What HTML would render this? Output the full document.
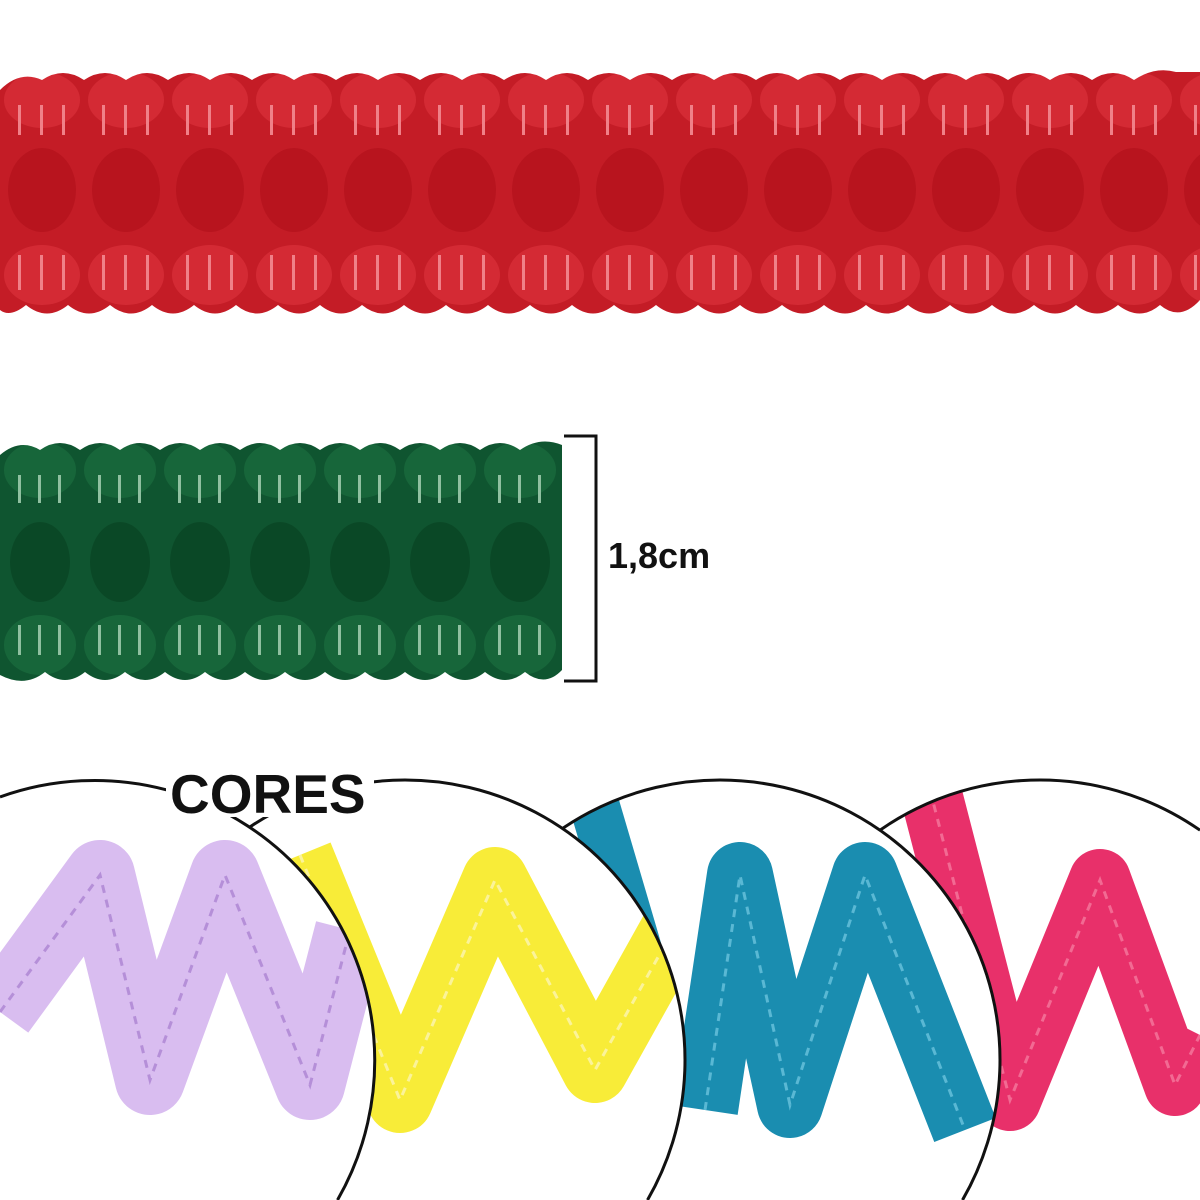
<!DOCTYPE html>
<html><head><meta charset="utf-8"><style>
html,body{margin:0;padding:0;background:#fff;width:1200px;height:1200px;overflow:hidden;}
svg{display:block;}
text{font-family:"Liberation Sans",sans-serif;font-weight:bold;}
</style></head><body>
<svg width="1200" height="1200" viewBox="0 0 1200 1200" xmlns="http://www.w3.org/2000/svg">
<defs>
<pattern id="redp" x="0" y="70" width="84" height="255" patternUnits="userSpaceOnUse">
  <rect width="84" height="255" fill="#c41c26"/>
  <ellipse cx="42" cy="30" rx="38" ry="28" fill="#d42a34"/>
  <ellipse cx="42" cy="120" rx="34" ry="42" fill="#b8141e"/>
  <ellipse cx="42" cy="205" rx="38" ry="30" fill="#d42a34"/>
  <rect x="18" y="35" width="3" height="30" fill="#f08088"/>
  <rect x="40" y="35" width="3" height="30" fill="#f08088"/>
  <rect x="62" y="35" width="3" height="30" fill="#f08088"/>
  <rect x="18" y="185" width="3" height="35" fill="#f08088"/>
  <rect x="40" y="185" width="3" height="35" fill="#f08088"/>
  <rect x="62" y="185" width="3" height="35" fill="#f08088"/>
</pattern>
<pattern id="grnp" x="0" y="440" width="80" height="245" patternUnits="userSpaceOnUse">
  <rect width="80" height="245" fill="#0f5530"/>
  <ellipse cx="40" cy="30" rx="36" ry="28" fill="#17663a"/>
  <ellipse cx="40" cy="122" rx="30" ry="40" fill="#0a4826"/>
  <ellipse cx="40" cy="205" rx="36" ry="30" fill="#17663a"/>
  <rect x="18" y="35" width="3" height="28" fill="#8fc0a0"/>
  <rect x="38" y="35" width="3" height="28" fill="#8fc0a0"/>
  <rect x="58" y="35" width="3" height="28" fill="#8fc0a0"/>
  <rect x="18" y="185" width="3" height="30" fill="#8fc0a0"/>
  <rect x="38" y="185" width="3" height="30" fill="#8fc0a0"/>
  <rect x="58" y="185" width="3" height="30" fill="#8fc0a0"/>
</pattern>
<clipPath id="c1"><path d="M0,1200 L0,797 A280 280 0 0 1 337.5,1200 Z"/></clipPath>
<clipPath id="c2"><path d="M162.5,1200 A280 280 0 1 1 647.5,1200 Z"/></clipPath>
<clipPath id="c3"><path d="M477.5,1200 A280 280 0 1 1 962.5,1200 Z"/></clipPath>
<clipPath id="c4"><path d="M797.5,1200 A280 280 0 0 1 1200,830.2 L1200,1200 Z"/></clipPath>
</defs>

<path d="M0 90 Q20 70 42 80 Q63 66 84 80 Q105 66 126 80 Q147 66 168 80 Q189 66 210 80 Q231 66 252 80 Q273 66 294 80 Q315 66 336 80 Q357 66 378 80 Q399 66 420 80 Q441 66 462 80 Q483 66 504 80 Q525 66 546 80 Q567 66 588 80 Q609 66 630 80 Q651 66 672 80 Q693 66 714 80 Q735 66 756 80 Q777 66 798 80 Q819 66 840 80 Q861 66 882 80 Q903 66 924 80 Q945 66 966 80 Q987 66 1008 80 Q1029 66 1050 80 Q1071 66 1092 80 Q1113 66 1134 80 Q1155 66 1176 72 L1200 72 L1200 300 Q1180 322 1160 305 Q1140 322 1118 305 Q1097 322 1076 305 Q1055 322 1034 305 Q1013 322 992 305 Q971 322 950 305 Q929 322 908 305 Q887 322 866 305 Q845 322 824 305 Q803 322 782 305 Q761 322 740 305 Q719 322 698 305 Q677 322 656 305 Q635 322 614 305 Q593 322 572 305 Q551 322 530 305 Q509 322 488 305 Q467 322 446 305 Q425 322 404 305 Q383 322 362 305 Q341 322 320 305 Q299 322 278 305 Q257 322 236 305 Q215 322 194 305 Q173 322 152 305 Q131 322 110 305 Q89 322 68 305 Q47 322 26 305 Q10 318 0 310 Z" fill="url(#redp)"/>

<path d="M0 455 Q20 438 40 450 Q60 436 80 450 Q100 436 120 450 Q140 436 160 450 Q180 436 200 450 Q220 436 240 450 Q260 436 280 450 Q300 436 320 450 Q340 436 360 450 Q380 436 400 450 Q420 436 440 450 Q460 436 480 450 Q500 436 520 450 Q540 436 562 445 L562 670 Q545 688 525 672 Q505 688 485 672 Q465 688 445 672 Q425 688 405 672 Q385 688 365 672 Q345 688 325 672 Q305 688 285 672 Q265 688 245 672 Q225 688 205 672 Q185 688 165 672 Q145 688 125 672 Q105 688 85 672 Q65 688 45 672 Q25 688 0 675 Z" fill="url(#grnp)"/>

<path d="M564 436 L596 436 L596 681 L564 681" fill="none" stroke="#111" stroke-width="3"/>
<text x="608" y="568" font-size="36" fill="#111">1,8cm</text>

<g>
  <path d="M797.5,1200 A280 280 0 0 1 1200,830.2 L1200,1200 Z" fill="#fff"/>
  <g clip-path="url(#c4)">
    <polyline points="930,790 1010,1100 1100,880 1175,1085 1200,1035" fill="none" stroke="#e8306a" stroke-width="62" stroke-linejoin="round"/>
    <polyline points="930,790 1010,1100 1100,880 1175,1085 1200,1035" fill="none" stroke="#f26a93" stroke-width="3" stroke-dasharray="8 7"/>
  </g>
  <path d="M797.5,1200 A280 280 0 0 1 1200,830.2" fill="none" stroke="#111" stroke-width="3"/>
</g>
<g>
  <path d="M477.5,1200 A280 280 0 1 1 962.5,1200 Z" fill="#fff"/>
  <g clip-path="url(#c3)">
    <polyline points="590,790 640,960" fill="none" stroke="#1a8db0" stroke-width="50"/>
    <polyline points="705,1110 740,875 790,1105 865,875 965,1130" fill="none" stroke="#1a8db0" stroke-width="66" stroke-linejoin="round"/>
    <polyline points="705,1110 740,875 790,1105 865,875 965,1130" fill="none" stroke="#5ab8d4" stroke-width="3" stroke-dasharray="8 7"/>
  </g>
  <path d="M477.5,1200 A280 280 0 1 1 962.5,1200" fill="none" stroke="#111" stroke-width="3"/>
</g>
<g>
  <path d="M162.5,1200 A280 280 0 1 1 647.5,1200 Z" fill="#fff"/>
  <g clip-path="url(#c2)">
    <polyline points="300,855 400,1100 495,880 595,1070 690,900" fill="none" stroke="#f8ec38" stroke-width="66" stroke-linejoin="round"/>
    <polyline points="300,855 400,1100 495,880 595,1070 690,900" fill="none" stroke="#fbf39a" stroke-width="3" stroke-dasharray="8 7"/>
  </g>
  <path d="M162.5,1200 A280 280 0 1 1 647.5,1200" fill="none" stroke="#111" stroke-width="3"/>
</g>
<g>
  <path d="M0,1200 L0,797 A280 280 0 0 1 337.5,1200 Z" fill="#fff"/>
  <g clip-path="url(#c1)">
    <polyline points="0,1012 100,875 150,1080 225,875 310,1085 350,930" fill="none" stroke="#d9bdf0" stroke-width="70" stroke-linejoin="round"/>
    <polyline points="0,1012 100,875 150,1080 225,875 310,1085 350,930" fill="none" stroke="#b58fd8" stroke-width="3" stroke-dasharray="8 7"/>
  </g>
  <path d="M0,797 A280 280 0 0 1 337.5,1200" fill="none" stroke="#111" stroke-width="3"/>
</g>

<rect x="166" y="765" width="208" height="52" fill="#fff"/>
<text x="170" y="813" font-size="55" fill="#111">CORES</text>
</svg>
</body></html>
